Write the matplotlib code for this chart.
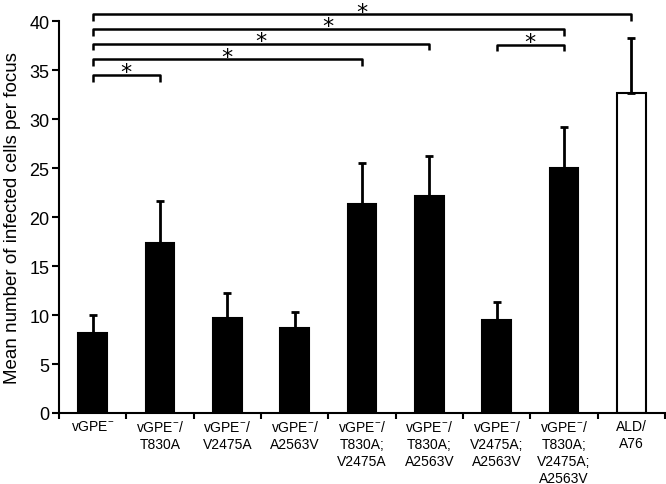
import matplotlib
matplotlib.use("Agg")
from matplotlib import pyplot as plt

plt.rcParams['font.family'] = ['Liberation Sans', 'DejaVu Sans']
plt.rcParams['mathtext.fontset'] = 'custom'
plt.rcParams['mathtext.rm'] = 'Liberation Sans'

# Data
labels = [
    'vGPE$^{-}$',
    'vGPE$^{-}$/\nT830A',
    'vGPE$^{-}$/\nV2475A',
    'vGPE$^{-}$/\nA2563V',
    'vGPE$^{-}$/\nT830A;\nV2475A',
    'vGPE$^{-}$/\nT830A;\nA2563V',
    'vGPE$^{-}$/\nV2475A;\nA2563V',
    'vGPE$^{-}$/\nT830A;\nV2475A;\nA2563V',
    'ALD/\nA76',
]
means = [8.2, 17.3, 9.7, 8.7, 21.3, 22.1, 9.5, 25.0, 32.7]
errors = [1.8, 4.3, 2.5, 1.6, 4.2, 4.1, 1.8, 4.2, 5.6]
colors = ['black'] * 8 + ['white']

# significance brackets: (left bar, right bar, height)
brackets_left = [0, 0, 0, 0, 0, 6]
brackets_right = [1, 4, 5, 7, 8, 7]
brackets_y = [34.5, 36.1, 37.7, 39.2, 40.7, 37.6]

fig = plt.figure(figsize=(6.66, 4.85), dpi=100)
ax = fig.add_axes([59 / 666, 71 / 485, 606 / 666, 414 / 485])

x = list(range(len(means)))
ax.bar(x, means, width=0.43, color=colors, edgecolor='black', linewidth=1.5)
ax.errorbar(x, means, yerr=[[0] * len(errors), errors], fmt='none',
            ecolor='black', elinewidth=2, capsize=3, capthick=2)

for i, j, h in zip(brackets_left, brackets_right, brackets_y):
    ax.plot([i, i, j, j], [h - 0.7, h, h, h - 0.7], color='black', lw=1.8,
            solid_capstyle='butt')
    ax.text((i + j) / 2, h - 0.35, '*', ha='center', va='baseline',
            fontsize=16, family='DejaVu Sans', clip_on=False)

ax.set_xlim(-0.5, 8.5)
ax.set_ylim(0, 42.25)
ax.set_yticks(range(0, 41, 5))
ax.spines['left'].set_bounds(0, 40)
ax.spines['top'].set_visible(False)
ax.spines['right'].set_visible(False)
ax.spines['left'].set_linewidth(1.5)
ax.spines['bottom'].set_linewidth(1.5)

ax.set_xticks([k + 0.5 for k in range(-1, 9)], minor=True)
ax.set_xticks(x)
ax.set_xticklabels(labels, fontsize=10, va='top', linespacing=1.3)
ax.tick_params(axis='x', which='major', length=0, pad=4)
ax.tick_params(axis='x', which='minor', length=4, width=1.5, direction='out')
ax.tick_params(axis='y', length=5, width=1.5, direction='out', labelsize=13, pad=2)

ax.set_ylabel('Mean number of infected cells per focus', fontsize=13.5)
ax.yaxis.set_label_coords(-0.0627, 0.473)

fig.savefig('out.png', dpi=100)
